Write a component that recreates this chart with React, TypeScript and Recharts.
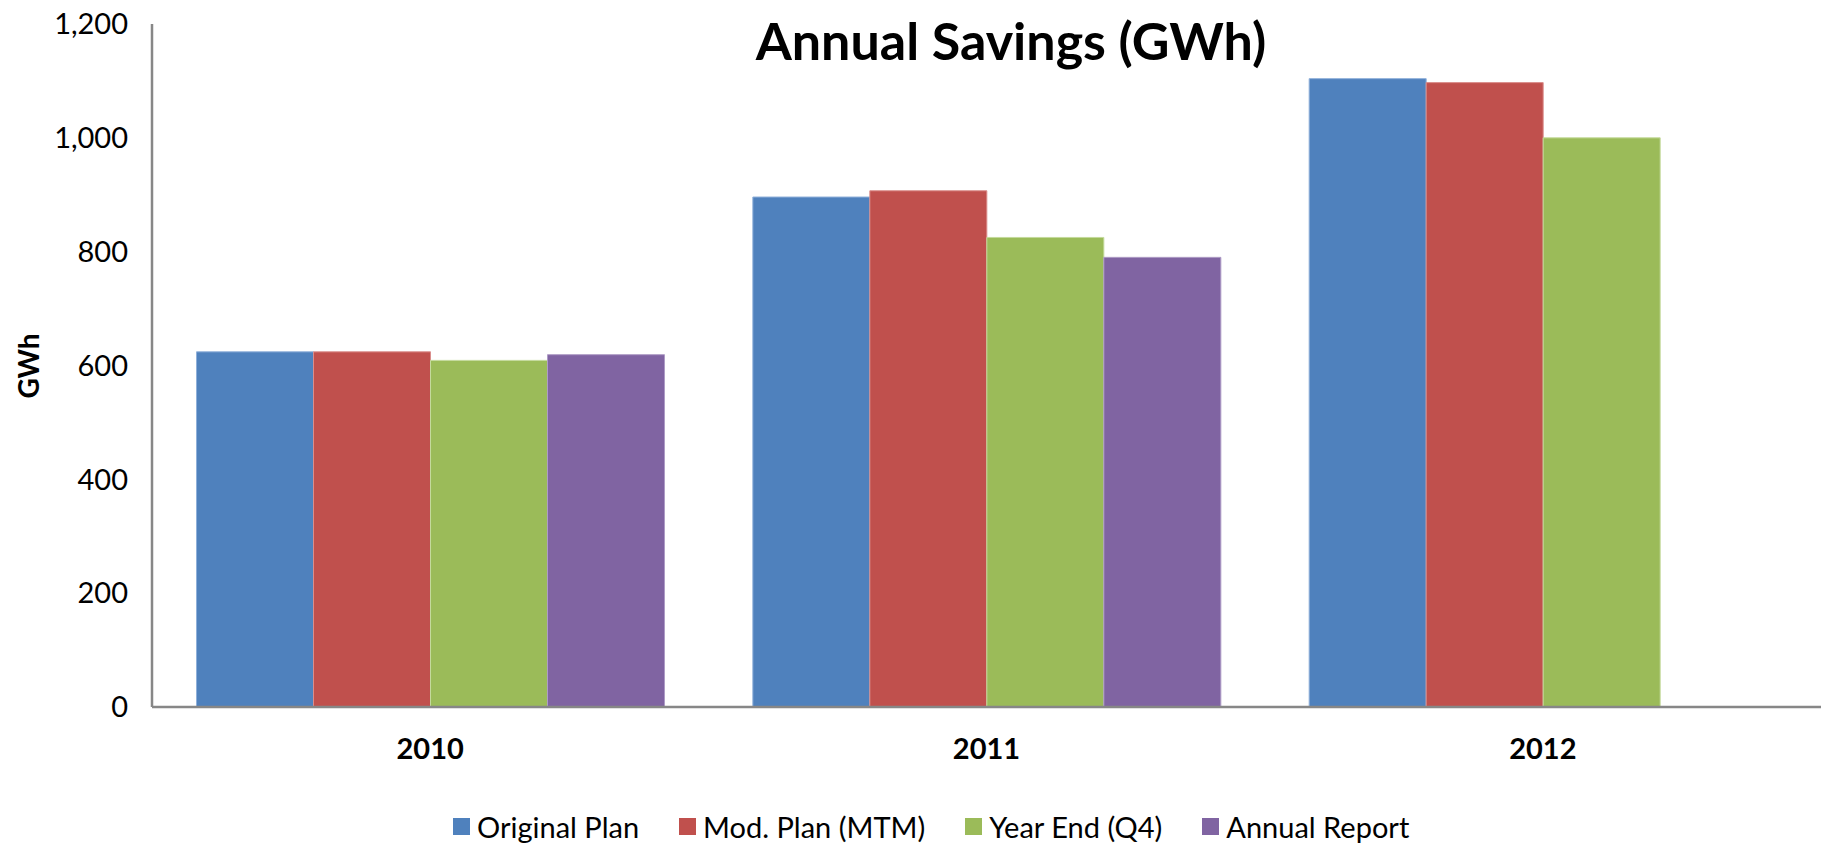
import React from 'react';
import { BarChart, Bar, XAxis, YAxis, Legend } from 'recharts';

const years = ['2010', '2011', '2012'];
const originalPlan = [624, 896, 1104];
const modPlan = [624, 907, 1097];
const yearEnd = [609, 825, 1000];
const annualReport: (number | null)[] = [619, 790, null];
const yTicks = [0, 200, 400, 600, 800, 1000, 1200];

const seriesNames = ['Original Plan', 'Mod. Plan (MTM)', 'Year End (Q4)', 'Annual Report'];
const seriesKeys = ['original', 'mod', 'yearEnd', 'annual'];
const seriesColors = ['#4F81BD', '#C0504D', '#9BBB59', '#8064A2'];
const seriesStrokes = ['#8FB0DA', '#DA8E8C', '#C4DA9C', '#AE9CC6'];

const data = years.map((y, i) => ({
  year: y,
  original: originalPlan[i],
  mod: modPlan[i],
  yearEnd: yearEnd[i],
  annual: annualReport[i],
}));

const FONT = 'Lato, "Open Sans", sans-serif';

const LegendContent = () => (
  <div
    style={{
      height: 82,
      boxSizing: 'border-box',
      paddingTop: 37,
      paddingLeft: 453,
      display: 'flex',
      alignItems: 'center',
      fontFamily: FONT,
      fontSize: 29,
      color: '#000',
      lineHeight: '22px',
    }}
  >
    {seriesNames.map((n, i) => (
      <div key={n} style={{ display: 'flex', alignItems: 'center', marginRight: 40, whiteSpace: 'nowrap' }}>
        <div style={{ width: 17, height: 17, background: seriesColors[i], marginRight: 7 }} />
        <span>{n}</span>
      </div>
    ))}
  </div>
);

export default function App() {
  return (
    <div style={{ position: 'absolute', left: 0, top: 0, width: 1829, height: 849, background: '#fff' }}>
      <BarChart
        width={1829}
        height={849}
        data={data}
        margin={{ top: 24, right: 8, left: 0, bottom: 0 }}
        barCategoryGap="8%"
        barGap={0}
      >
        <XAxis
          dataKey="year"
          axisLine={{ stroke: '#878787', strokeWidth: 2.5 }}
          tickLine={false}
          tickSize={6}
          tickMargin={25}
          height={60}
          tick={{ fill: '#000', fontFamily: FONT, fontSize: 29, fontWeight: 700 }}
        />
        <YAxis
          width={152}
          domain={[0, 1200]}
          ticks={yTicks}
          interval={0}
          axisLine={{ stroke: '#878787', strokeWidth: 2.5 }}
          tickLine={false}
          tickSize={6}
          tickMargin={18}
          tickFormatter={(v: number) => v.toLocaleString('en-US')}
          tick={{ fill: '#000', fontFamily: FONT, fontSize: 29 }}
        />
        <Legend verticalAlign="bottom" content={<LegendContent />} />
        {seriesKeys.map((k, i) => (
          <Bar
            key={k}
            dataKey={k}
            name={seriesNames[i]}
            fill={seriesColors[i]}
            stroke={seriesStrokes[i]}
            strokeWidth={1}
            isAnimationActive={false}
          />
        ))}
        <text
          x={1011}
          y={60}
          textAnchor="middle"
          style={{ fontFamily: FONT, fontSize: 52, fontWeight: 700, fill: '#000' }}
        >
          Annual Savings (GWh)
        </text>
        <text
          transform="translate(39,366) rotate(-90)"
          textAnchor="middle"
          style={{ fontFamily: FONT, fontSize: 28, fontWeight: 700, fill: '#000' }}
        >
          GWh
        </text>
      </BarChart>
    </div>
  );
}
